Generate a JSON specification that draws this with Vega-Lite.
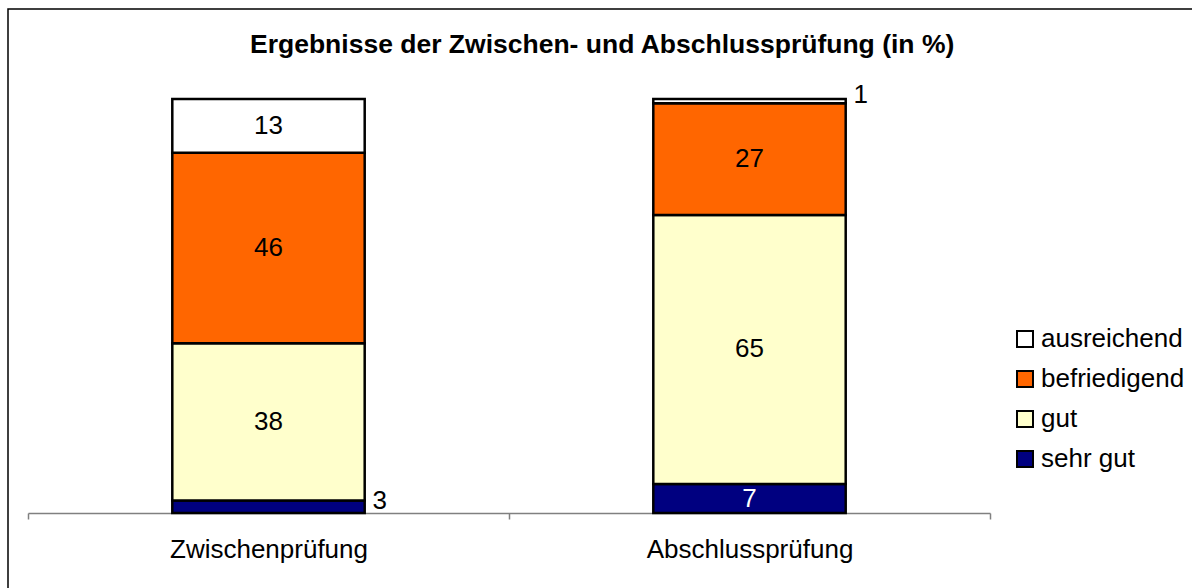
{
  "$schema": "https://vega.github.io/schema/vega-lite/v6.json",
  "autosize": {"type": "none"},
  "width": 1220,
  "height": 610,
  "padding": {"left": 8, "top": 9, "right": -36, "bottom": -31},
  "background": "white",
  "config": {
    "view": {"stroke": "black", "strokeWidth": 1.5},
    "font": "Liberation Sans"
  },
  "title": {
    "text": "Ergebnisse der Zwischen- und Abschlussprüfung (in %)",
    "fontSize": 26.5,
    "fontWeight": "bold",
    "font": "Liberation Sans",
    "color": "black",
    "anchor": "start",
    "frame": "group",
    "offset": -49,
    "dx": 242
  },
  "data": {
    "values": [
      {"exam": "Zwischenprüfung", "grade": "sehr gut", "value": 3},
      {"exam": "Zwischenprüfung", "grade": "gut", "value": 38},
      {"exam": "Zwischenprüfung", "grade": "befriedigend", "value": 46},
      {"exam": "Zwischenprüfung", "grade": "ausreichend", "value": 13},
      {"exam": "Abschlussprüfung", "grade": "sehr gut", "value": 7},
      {"exam": "Abschlussprüfung", "grade": "gut", "value": 65},
      {"exam": "Abschlussprüfung", "grade": "befriedigend", "value": 27},
      {"exam": "Abschlussprüfung", "grade": "ausreichend", "value": 1}
    ]
  },
  "transform": [
    {"stack": "value", "groupby": ["exam"], "sort": [{"field": "grade", "order": "descending"}], "as": ["v0", "v1"]},
    {"calculate": "(datum.v0 + datum.v1) / 2", "as": "mid"}
  ],
  "encoding": {
    "x": {
      "field": "exam",
      "type": "nominal",
      "sort": ["Zwischenprüfung", "Abschlussprüfung"],
      "scale": {"range": [20, 982], "paddingInner": 0, "paddingOuter": 0},
      "axis": {
        "title": null,
        "orient": "bottom",
        "offset": -106,
        "tickBand": "extent",
        "labelAngle": 0,
        "labelFontSize": 26,
        "labelFont": "Liberation Sans",
        "labelColor": "black",
        "labelLimit": 0,
        "labelPadding": 17,
        "domainColor": "#808080",
        "tickColor": "#808080",
        "domainWidth": 1.5,
        "tickWidth": 1.5,
        "tickSize": 6,
        "grid": false
      }
    }
  },
  "layer": [
    {
      "mark": {"type": "bar", "width": {"band": 0.4}, "stroke": "black", "strokeWidth": 2.5},
      "encoding": {
        "y": {"field": "v1", "type": "quantitative", "scale": {"domain": [0, 100], "range": [504, 90], "nice": false, "zero": false}, "axis": null},
        "y2": {"field": "v0"},
        "color": {
          "field": "grade",
          "type": "nominal",
          "scale": {
            "domain": ["ausreichend", "befriedigend", "gut", "sehr gut"],
            "range": ["#FFFFFF", "#FF6600", "#FFFFCC", "#000080"]
          },
          "legend": {
            "title": null,
            "orient": "none",
            "legendX": 1004,
            "legendY": 317,
            "padding": 0,
            "symbolType": "square",
            "symbolSize": 256,
            "symbolStrokeColor": "black",
            "symbolStrokeWidth": 2,
            "symbolOpacity": 1,
            "labelFontSize": 26,
            "labelFont": "Liberation Sans",
            "labelColor": "black",
            "labelOffset": 3,
            "labelLimit": 0,
            "rowPadding": 14
          }
        }
      }
    },
    {
      "transform": [{"filter": "datum.value >= 5"}],
      "mark": {"type": "text", "fontSize": 26, "baseline": "middle", "align": "center", "font": "Liberation Sans"},
      "encoding": {
        "y": {"field": "mid", "type": "quantitative"},
        "text": {"field": "value", "type": "quantitative"},
        "color": {"condition": {"test": "datum.grade === 'sehr gut'", "value": "white"}, "value": "black"}
      }
    },
    {
      "transform": [{"filter": "datum.value < 5"}],
      "mark": {"type": "text", "fontSize": 26, "baseline": "middle", "align": "left", "dx": 104, "dy": -6, "font": "Liberation Sans", "color": "black"},
      "encoding": {
        "y": {"field": "mid", "type": "quantitative"},
        "text": {"field": "value", "type": "quantitative"}
      }
    }
  ]
}
